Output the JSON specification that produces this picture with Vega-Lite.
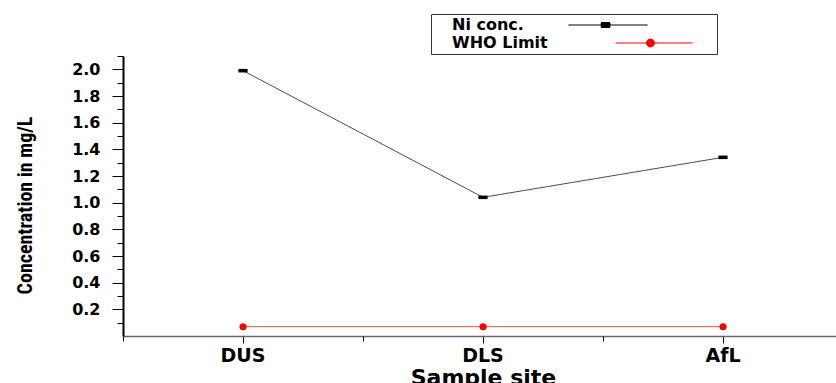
{
  "$schema": "https://vega.github.io/schema/vega-lite/v6.json",
  "width": 720,
  "height": 280,
  "autosize": {"type": "none"},
  "padding": {"left": 123, "top": 56, "right": 0, "bottom": 47},
  "background": "white",
  "config": {"view": {"stroke": null}, "axis": {"grid": false}},
  "data": {
    "values": [
      {"site": "DUS", "series": "Ni conc.", "conc": 1.99},
      {"site": "DLS", "series": "Ni conc.", "conc": 1.04},
      {"site": "AfL", "series": "Ni conc.", "conc": 1.34},
      {"site": "DUS", "series": "WHO Limit", "conc": 0.07},
      {"site": "DLS", "series": "WHO Limit", "conc": 0.07},
      {"site": "AfL", "series": "WHO Limit", "conc": 0.07}
    ]
  },
  "resolve": {"axis": {"x": "independent", "y": "independent"}},
  "layer": [
    {
      "mark": {"type": "line", "strokeWidth": 1, "opacity": 0.7},
      "encoding": {
        "x": {
          "field": "site", "type": "nominal", "sort": ["DUS", "DLS", "AfL"],
          "scale": {"type": "band", "paddingInner": 0, "paddingOuter": 0},
          "axis": {
            "orient": "bottom", "labelAngle": 0, "tickSize": 7, "tickColor": "black", "tickWidth": 1,
            "domainColor": "#666", "domainWidth": 1.5,
            "labelFont": "DejaVu Sans", "labelFontWeight": "bold", "labelFontSize": 19, "labelColor": "black", "labelPadding": 3,
            "title": "Sample site", "titleFont": "DejaVu Sans", "titleFontWeight": "bold", "titleFontSize": 22, "titleColor": "black", "titlePadding": 2
          }
        },
        "y": {
          "field": "conc", "type": "quantitative",
          "scale": {"domain": [0, 2.1], "nice": false, "zero": false},
          "axis": {
            "orient": "left", "values": [0.2, 0.4, 0.6, 0.8, 1.0, 1.2, 1.4, 1.6, 1.8, 2.0], "format": ".1f",
            "tickSize": 11, "tickColor": "black", "tickWidth": 1,
            "domainColor": "black", "domainWidth": 2,
            "labelFont": "DejaVu Sans", "labelFontWeight": "bold", "labelFontSize": 16, "labelColor": "black", "labelPadding": 12,
            "title": "Concentration in mg/L", "titleFont": "Liberation Sans Narrow, Roboto Condensed, Liberation Sans", "titleFontWeight": "bold", "titleFontSize": 20, "titleColor": "black",
            "titleX": -88, "titleY": 149
          }
        },
        "color": {
          "field": "series", "type": "nominal",
          "scale": {"domain": ["Ni conc.", "WHO Limit"], "range": ["#000000", "#ff0000"]},
          "legend": {
            "title": null, "orient": "none", "legendX": 308, "legendY": -42, "direction": "vertical",
            "strokeColor": "#333", "fillColor": "white", "padding": 3, "rowPadding": 2,
            "labelFont": "DejaVu Sans", "labelFontWeight": "bold", "labelFontSize": 16, "labelColor": "black",
            "labelOffset": 2, "symbolSize": 64, "symbolOpacity": 1, "symbolStrokeWidth": 1,
            "symbolType": {"expr": "datum.value === 'Ni conc.' ? 'M31.6,0H51.4M39.8,-0.6H42V0.6H39.8ZM67.4,0' : 'M43.4,0H62.6M53.1,0A1,1,0,1,1,51.1,0A1,1,0,1,1,53.1,0ZM67.4,0'"}
          }
        }
      }
    },
    {
      "transform": [{"filter": "datum.series === 'Ni conc.'"}],
      "mark": {"type": "point", "filled": true, "size": 50, "opacity": 1, "strokeWidth": 0, "shape": "M-1.3,-0.5H1.3V0.5H-1.3Z"},
      "encoding": {
        "x": {
          "field": "site", "type": "nominal", "sort": ["DUS", "DLS", "AfL"],
          "axis": {
            "orient": "bottom", "tickBand": "extent", "tickSize": 5, "tickColor": "black", "tickWidth": 1,
            "labels": false, "domain": false, "title": null
          }
        },
        "y": {
          "field": "conc", "type": "quantitative",
          "axis": {
            "orient": "left", "values": [0.1, 0.3, 0.5, 0.7, 0.9, 1.1, 1.3, 1.5, 1.7, 1.9, 2.1],
            "tickSize": 6, "tickColor": "black", "tickWidth": 1,
            "labels": false, "domain": false, "title": null
          }
        },
        "color": {"field": "series", "type": "nominal"}
      }
    },
    {
      "transform": [{"filter": "datum.series === 'WHO Limit'"}],
      "mark": {"type": "point", "filled": true, "size": 50, "opacity": 1, "strokeWidth": 0, "shape": "circle"},
      "encoding": {
        "x": {"field": "site", "type": "nominal", "sort": ["DUS", "DLS", "AfL"], "axis": null},
        "y": {"field": "conc", "type": "quantitative", "axis": null},
        "color": {"field": "series", "type": "nominal"}
      }
    }
  ]
}
